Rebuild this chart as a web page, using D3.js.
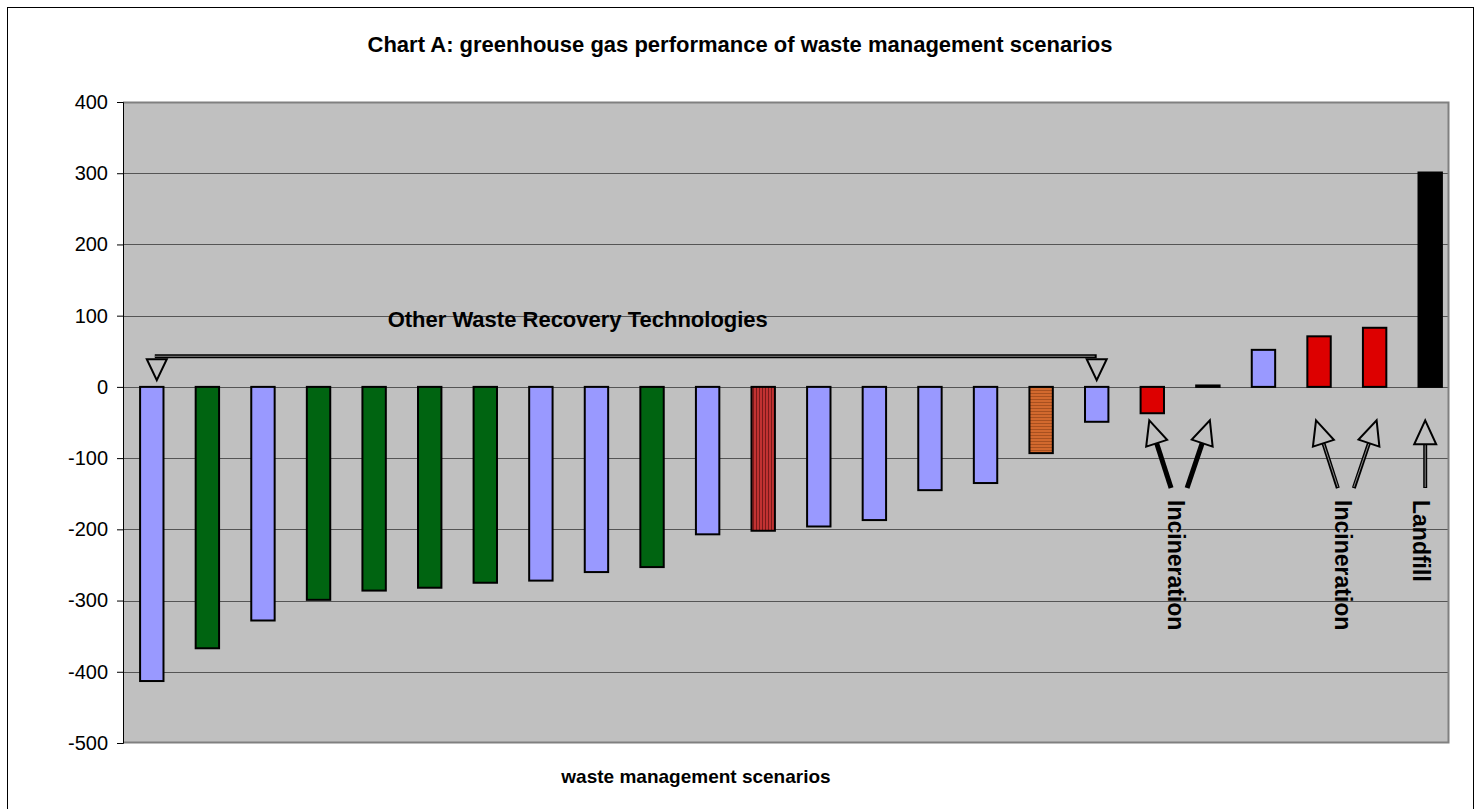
<!DOCTYPE html>
<html>
<head>
<meta charset="utf-8">
<script src="https://cdn.jsdelivr.net/npm/d3@7"></script>
<style>
  body { margin: 0; background: #fff; }
  text { font-family: "Liberation Sans", Arial, sans-serif; }
</style>
</head>
<body>
<div id="chart"></div>
<script>
// data
var scenarios = d3.range(1, 25).map(function(i) { return "S" + i; });
var values = [-413, -367, -328, -299, -286, -282, -275, -272, -260, -253, -207, -202,
              -196, -187, -145, -135, -93, -49, -37, 2, 52, 71, 83, 301];
var kinds = ["blue", "green", "blue", "green", "green", "green", "green", "blue", "blue", "green",
             "blue", "redStripe", "blue", "blue", "blue", "blue", "orangeStripe", "blue",
             "red", "black", "blue", "red", "red", "black"];
var yTicks = [400, 300, 200, 100, 0, -100, -200, -300, -400, -500];

// annotations: bracket over scenarios, arrows under chosen bars
var bracket = { from: 0, to: 17, label: "Other Waste Recovery Technologies" };
var arrowGroups = [
  { label: "Incineration", bars: [18, 19], heavy: true },
  { label: "Incineration", bars: [21, 22], heavy: false },
  { label: "Landfill", bars: [23], heavy: false }
];

var fills = {
  blue: "#9999ff",
  green: "#006411",
  red: "#dd0000",
  black: "#000000",
  redStripe: "url(#redStripe)",
  orangeStripe: "url(#orangeStripe)"
};

var W = 1479, H = 809;
var margin = { top: 102, right: 30, bottom: 66, left: 123 };
var width = W - margin.left - margin.right,
    height = H - margin.top - margin.bottom;

var svg = d3.select("#chart").append("svg")
  .attr("width", W).attr("height", H);

// patterns for the hatched bars
var defs = svg.append("defs");
var p1 = defs.append("pattern").attr("id", "redStripe")
  .attr("patternUnits", "userSpaceOnUse").attr("width", 3).attr("height", 10);
p1.append("rect").attr("width", 3).attr("height", 10).attr("fill", "#c23232");
p1.append("rect").attr("width", 1).attr("height", 10).attr("fill", "#7a1a1a");
var p2 = defs.append("pattern").attr("id", "orangeStripe")
  .attr("patternUnits", "userSpaceOnUse").attr("width", 10).attr("height", 3);
p2.append("rect").attr("width", 10).attr("height", 3).attr("fill", "#d2692e");
p2.append("rect").attr("width", 10).attr("height", 1).attr("fill", "#a8501f");

// outer chart border
svg.append("rect")
  .attr("x", 7.5).attr("y", 7.5).attr("width", 1466).attr("height", 810)
  .attr("fill", "none").attr("stroke", "#000").attr("stroke-width", 1);

svg.append("text")
  .attr("x", 740).attr("y", 52)
  .attr("text-anchor", "middle")
  .style("font-size", "22px").style("font-weight", "bold")
  .text("Chart A: greenhouse gas performance of waste management scenarios");

var g = svg.append("g")
  .attr("transform", "translate(" + margin.left + "," + margin.top + ")");

var x = d3.scaleBand().domain(scenarios).range([1, 1335])
  .paddingInner(0.579).paddingOuter(0.2895);
var y = d3.scaleLinear().domain([-500, 400]).range([height, 0]);

// plot area
g.append("rect")
  .attr("width", width).attr("height", height)
  .attr("fill", "#c0c0c0");

// gridlines
g.selectAll(".grid")
  .data(yTicks.filter(function(d) { return d > -500 && d < 400; }))
  .enter().append("line")
  .attr("x1", 0).attr("x2", width)
  .attr("y1", function(d) { return Math.round(y(d)) + 0.5; })
  .attr("y2", function(d) { return Math.round(y(d)) + 0.5; })
  .attr("stroke", "#555").attr("stroke-width", 1);

// plot frame (top/right/bottom grey)
g.append("path")
  .attr("d", "M0," + 0.5 + "H" + (width - 0.5) + "V" + (height - 0.5) + "H0")
  .attr("fill", "none").attr("stroke", "#808080").attr("stroke-width", 2);

// y axis
var yAxis = d3.axisLeft(y).tickValues(yTicks).tickSize(6).tickPadding(9)
  .tickFormat(function(d) { return String(d); });
var ya = g.append("g").call(yAxis);
ya.select(".domain").attr("stroke", "#000");
ya.selectAll("text")
  .style("font-size", "20px").style("font-family", "'Liberation Sans', Arial, sans-serif")
  .attr("fill", "#000");

// bars
g.selectAll(".bar")
  .data(values)
  .enter().append("rect")
  .attr("class", "bar")
  .attr("x", function(d, i) { return x(scenarios[i]); })
  .attr("width", x.bandwidth())
  .attr("y", function(d) { return y(Math.max(0, d)); })
  .attr("height", function(d) { return Math.abs(y(d) - y(0)); })
  .attr("fill", function(d, i) { return fills[kinds[i]]; })
  .attr("stroke", "#000").attr("stroke-width", 2);

// bracket over the "other" technologies
var bx1 = x(scenarios[bracket.from]) + x.bandwidth() / 2 + 3,
    bx2 = x(scenarios[bracket.to]) + x.bandwidth() / 2;
var by = y(43);
g.append("line").attr("x1", bx1).attr("x2", bx2).attr("y1", by).attr("y2", by)
  .attr("stroke", "#000").attr("stroke-width", 4);
g.append("line").attr("x1", bx1).attr("x2", bx2 - 2).attr("y1", by).attr("y2", by)
  .attr("stroke", "#888").attr("stroke-width", 1);
[bx1 + 2, bx2].forEach(function(cx) {
  g.append("path")
    .attr("d", "M" + (cx - 10) + "," + (by + 3) + "L" + (cx + 10) + "," + (by + 3) +
               "L" + cx + "," + (by + 24) + "Z")
    .attr("fill", "none").attr("stroke", "#000").attr("stroke-width", 2);
});
g.append("text")
  .attr("x", (bx1 + bx2) / 2 - 48).attr("y", y(95) + 8)
  .attr("text-anchor", "middle")
  .style("font-size", "22px").style("font-weight", "bold")
  .text(bracket.label);

// arrows pointing at incineration / landfill bars
var tipY = y(-47), tailY = y(-142);
arrowGroups.forEach(function(grp) {
  var n = grp.bars.length;
  var centers = grp.bars.map(function(b) { return x(scenarios[b]) + x.bandwidth() / 2; });
  var mid = n > 1 ? d3.mean(centers) : centers[0] - 5;
  grp.bars.forEach(function(b, k) {
    var tx = n > 1 ? centers[k] + (k === 0 ? -3 : 2) : mid;
    var sx = n > 1 ? mid + (k === 0 ? -9 : 7) : tx;
    var ang = Math.atan2(tipY - tailY, tx - sx);
    var hl = 24, hw = 11;
    var bxp = tx - hl * Math.cos(ang), byp = tipY - hl * Math.sin(ang);
    var nx = -Math.sin(ang), ny = Math.cos(ang);
    if (grp.heavy) {
      g.append("line").attr("x1", sx).attr("y1", tailY).attr("x2", bxp).attr("y2", byp)
        .attr("stroke", "#000").attr("stroke-width", 5);
    } else {
      g.append("line").attr("x1", sx).attr("y1", tailY).attr("x2", bxp).attr("y2", byp)
        .attr("stroke", "#000").attr("stroke-width", 4);
      g.append("line").attr("x1", sx).attr("y1", tailY - 1).attr("x2", bxp).attr("y2", byp)
        .attr("stroke", "#888").attr("stroke-width", 1);
    }
    g.append("path")
      .attr("d", "M" + tx + "," + tipY +
                 "L" + (bxp + nx * hw) + "," + (byp + ny * hw) +
                 "L" + (bxp - nx * hw) + "," + (byp - ny * hw) + "Z")
      .attr("fill", "#c0c0c0").attr("stroke", "#000").attr("stroke-width", 2)
      .attr("stroke-linejoin", "miter");
  });
  g.append("text")
    .attr("transform", "translate(" + (mid - 12) + "," + (tailY + 12) + ") rotate(90)")
    .attr("text-anchor", "start")
    .style("font-size", "23px").style("font-weight", "bold")
    .text(grp.label);
});

// x axis title
svg.append("text")
  .attr("x", 696).attr("y", 783)
  .attr("text-anchor", "middle")
  .style("font-size", "19px").style("font-weight", "bold")
  .text("waste management scenarios");
</script>
</body>
</html>
